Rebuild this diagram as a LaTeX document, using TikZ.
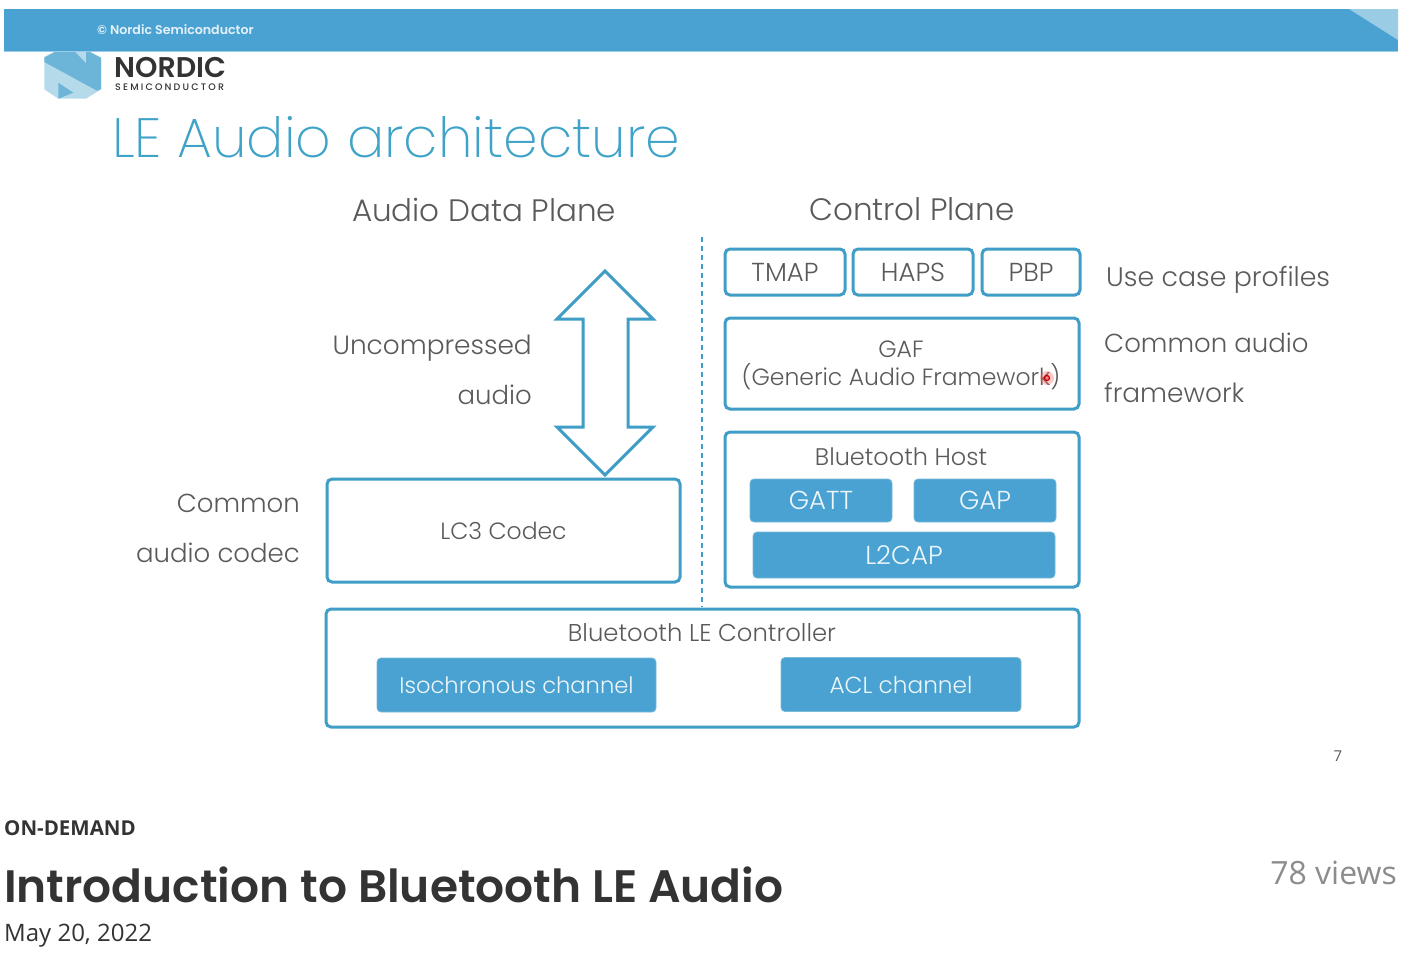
\documentclass[tikz,border=0pt]{standalone}
\usepackage{fontspec}
\setmainfont{Open Sans}
\newfontfamily\slidefont{Poppins Light}
\newfontfamily\thinfont{Poppins ExtraLight}
\newfontfamily\headfont{Poppins SemiBold}
\newfontfamily\logofont{Poppins SemiBold}
\newfontfamily\subfont[LetterSpace=23]{Poppins Medium}
\definecolor{nblue}{HTML}{49A2D1}
\definecolor{nline}{HTML}{3F9DC6}
\definecolor{ntext}{HTML}{5A5A5A}
\definecolor{ntitle}{HTML}{3FA3C8}
\definecolor{logolight}{HTML}{B5DAEA}
\definecolor{logomid}{HTML}{6DB5D8}
\tikzset{
  box/.style={draw=nline,line width=3pt,rounded corners=5pt,fill=white,inner sep=0pt,align=center,text=ntext,font=\slidefont\fontsize{26}{30}\selectfont},
  solidbox/.style={fill=nblue,draw=nline!70!white,line width=.8pt,rounded corners=4pt,inner sep=0pt,text=white!90!nblue,font=\slidefont\fontsize{26}{30}\selectfont},
  smalltext/.style={inner sep=0pt,text=ntext,font=\slidefont\fontsize{23.5}{27}\selectfont},
  lab/.style={inner sep=0pt,text=ntext,font=\slidefont\fontsize{26}{30}\selectfont},
  plane/.style={lab,font=\slidefont\fontsize{31}{35}\selectfont},
}
\begin{document}
\begin{tikzpicture}[x=1pt,y=-1pt]
\useasboundingbox (0,0) rectangle (1406,962);
% logo
\fill[logolight] (44.3,56.7) -- (58.3,50) -- (86,50) -- (101,57.7) -- (101,89.3) -- (86,98.7) -- (58.3,98.7) -- (44.3,89.3) -- cycle;
\fill[logomid] (44.3,57.7) -- (58.3,50) -- (73.3,50) -- (86,63.3) -- (86,50) -- (101,57.7) -- (101,89.3) -- (97,90.7) -- (44.3,62) -- cycle;
\fill[logomid] (58.3,82.7) -- (73.3,92.7) -- (58.3,98.7) -- cycle;
% header
\fill[nblue!55!white] (4,50) rectangle (1398,52);
\fill[nblue] (4,9) rectangle (1398,50.5);
\fill[nblue!55!white] (1349,9) -- (1398,9) -- (1398,40) -- cycle;
\node[anchor=west,inner sep=0pt,text=white!85!nblue,font=\logofont\fontsize{12.6}{14}\selectfont] (copy) at (97,30) {© Nordic Semiconductor};
\node[anchor=west,inner sep=0pt,text=black!80,font=\logofont\fontsize{28.5}{30}\selectfont] (brand) at (114,68) {NORDIC};
\node[anchor=west,inner sep=0pt,text=black!80,font=\subfont\fontsize{9.5}{10}\selectfont] (brandsub) at (115,87) {SEMICONDUCTOR};
% title
\node[anchor=west,inner sep=0pt,text=ntitle,font=\thinfont\fontsize{55.4}{60}\selectfont] (title) at (112,137) {LE Audio architecture};
% plane labels
\node[plane] (dataplane) at (484,210) {Audio Data Plane};
\node[plane] (ctrlplane) at (912,209) {Control Plane};
% divider
\coordinate (dtop) at (702,237);
\coordinate (dbot) at (702,607);
\draw[nline,line width=1.5pt,dash pattern=on 5pt off 4pt] (dtop) -- (dbot);
% arrow
\draw[nline,line width=3pt,miter limit=10,fill=white] (605,271) -- (653,319) -- (628,319) -- (628,427) -- (653,427) -- (605,475) -- (557,427) -- (583,427) -- (583,319) -- (557,319) -- cycle;
% profile row
\node[box,minimum width=120pt,minimum height=46pt] (tmap) at (785,272) {TMAP};
\node[box,minimum width=120pt,minimum height=46pt] (haps) at (913,272) {HAPS};
\node[box,minimum width=98pt,minimum height=46pt] (pbp) at (1031,272) {PBP};
\node[box,minimum width=354pt,minimum height=91pt] (gaf) at (902,363.5) {};
\node[smalltext] (gaft) at (901,349) {GAF};
\node[smalltext] (gafl) at (901,377) {(Generic Audio Framework)};
\fill[red!60!white,opacity=.35] (1047,378) circle (7pt);
\draw[red!75!black,line width=1.2pt,fill=red!50!white] (1047,378) circle (2.5pt);
% host
\node[box,minimum width=354pt,minimum height=155pt] (host) at (902,509.5) {};
\node[smalltext,font=\slidefont\fontsize{24}{27}\selectfont] (hostt) at (901,457) {Bluetooth Host};
\node[solidbox,minimum width=142pt,minimum height=43pt] (gatt) at (821,500.5) {GATT};
\node[solidbox,minimum width=142pt,minimum height=43pt] (gap) at (985,500.5) {GAP};
\node[solidbox,minimum width=302pt,minimum height=46pt] (l2cap) at (904,555) {L2CAP};
% codec
\node[box,font=\slidefont\fontsize{23.5}{27}\selectfont,minimum width=353pt,minimum height=103pt] (lc3) at (503.5,530.5) {LC3 Codec};
% controller
\node[box,minimum width=753pt,minimum height=118pt] (ctrl) at (702.5,668) {};
\node[smalltext,font=\slidefont\fontsize{24.3}{27}\selectfont] (ctrlt) at (702,633) {Bluetooth LE Controller};
\node[solidbox,font=\slidefont\fontsize{22.6}{27}\selectfont,minimum width=279pt,minimum height=54pt] (iso) at (516.5,685) {Isochronous channel};
\node[solidbox,font=\slidefont\fontsize{23.2}{27}\selectfont,minimum width=240pt,minimum height=54pt] (acl) at (901,684.5) {ACL channel};
% side labels
\node[lab,anchor=east,font=\slidefont\fontsize{26.4}{30}\selectfont] (unc) at (532,348) {Uncompressed};
\node[lab,anchor=east] (aud) at (532,395) {audio};
\node[lab,anchor=east] (com) at (300,503) {Common};
\node[lab,anchor=east] (cod) at (300,553) {audio codec};
\node[lab,anchor=west,font=\slidefont\fontsize{26.8}{30}\selectfont] (use) at (1106,280) {Use case profiles};
\node[lab,anchor=west] (caud) at (1104,343) {Common audio};
\node[lab,anchor=west,font=\slidefont\fontsize{26.4}{30}\selectfont] (fram) at (1104,393) {framework};
\node[inner sep=0pt,text=ntext,font=\fontsize{15}{17}\selectfont] (pg) at (1338,756) {7};
% page text
\node[anchor=west,inner sep=0pt,text=black!80,font=\bfseries\fontsize{20.5}{24}\selectfont] (od) at (4,828) {ON-DEMAND};
\node[anchor=west,inner sep=0pt,text=black!80,font=\headfont\fontsize{45.5}{50}\selectfont] (main) at (4,884.5) {Introduction to Bluetooth LE Audio};
\node[anchor=west,inner sep=0pt,text=black!80,font=\fontsize{24}{28}\selectfont] (date) at (4,936) {May 20, 2022};
\node[anchor=east,inner sep=0pt,text=black!45,font=\fontsize{32}{38}\selectfont] (views) at (1397,873) {78 views};
\end{tikzpicture}
\end{document}
